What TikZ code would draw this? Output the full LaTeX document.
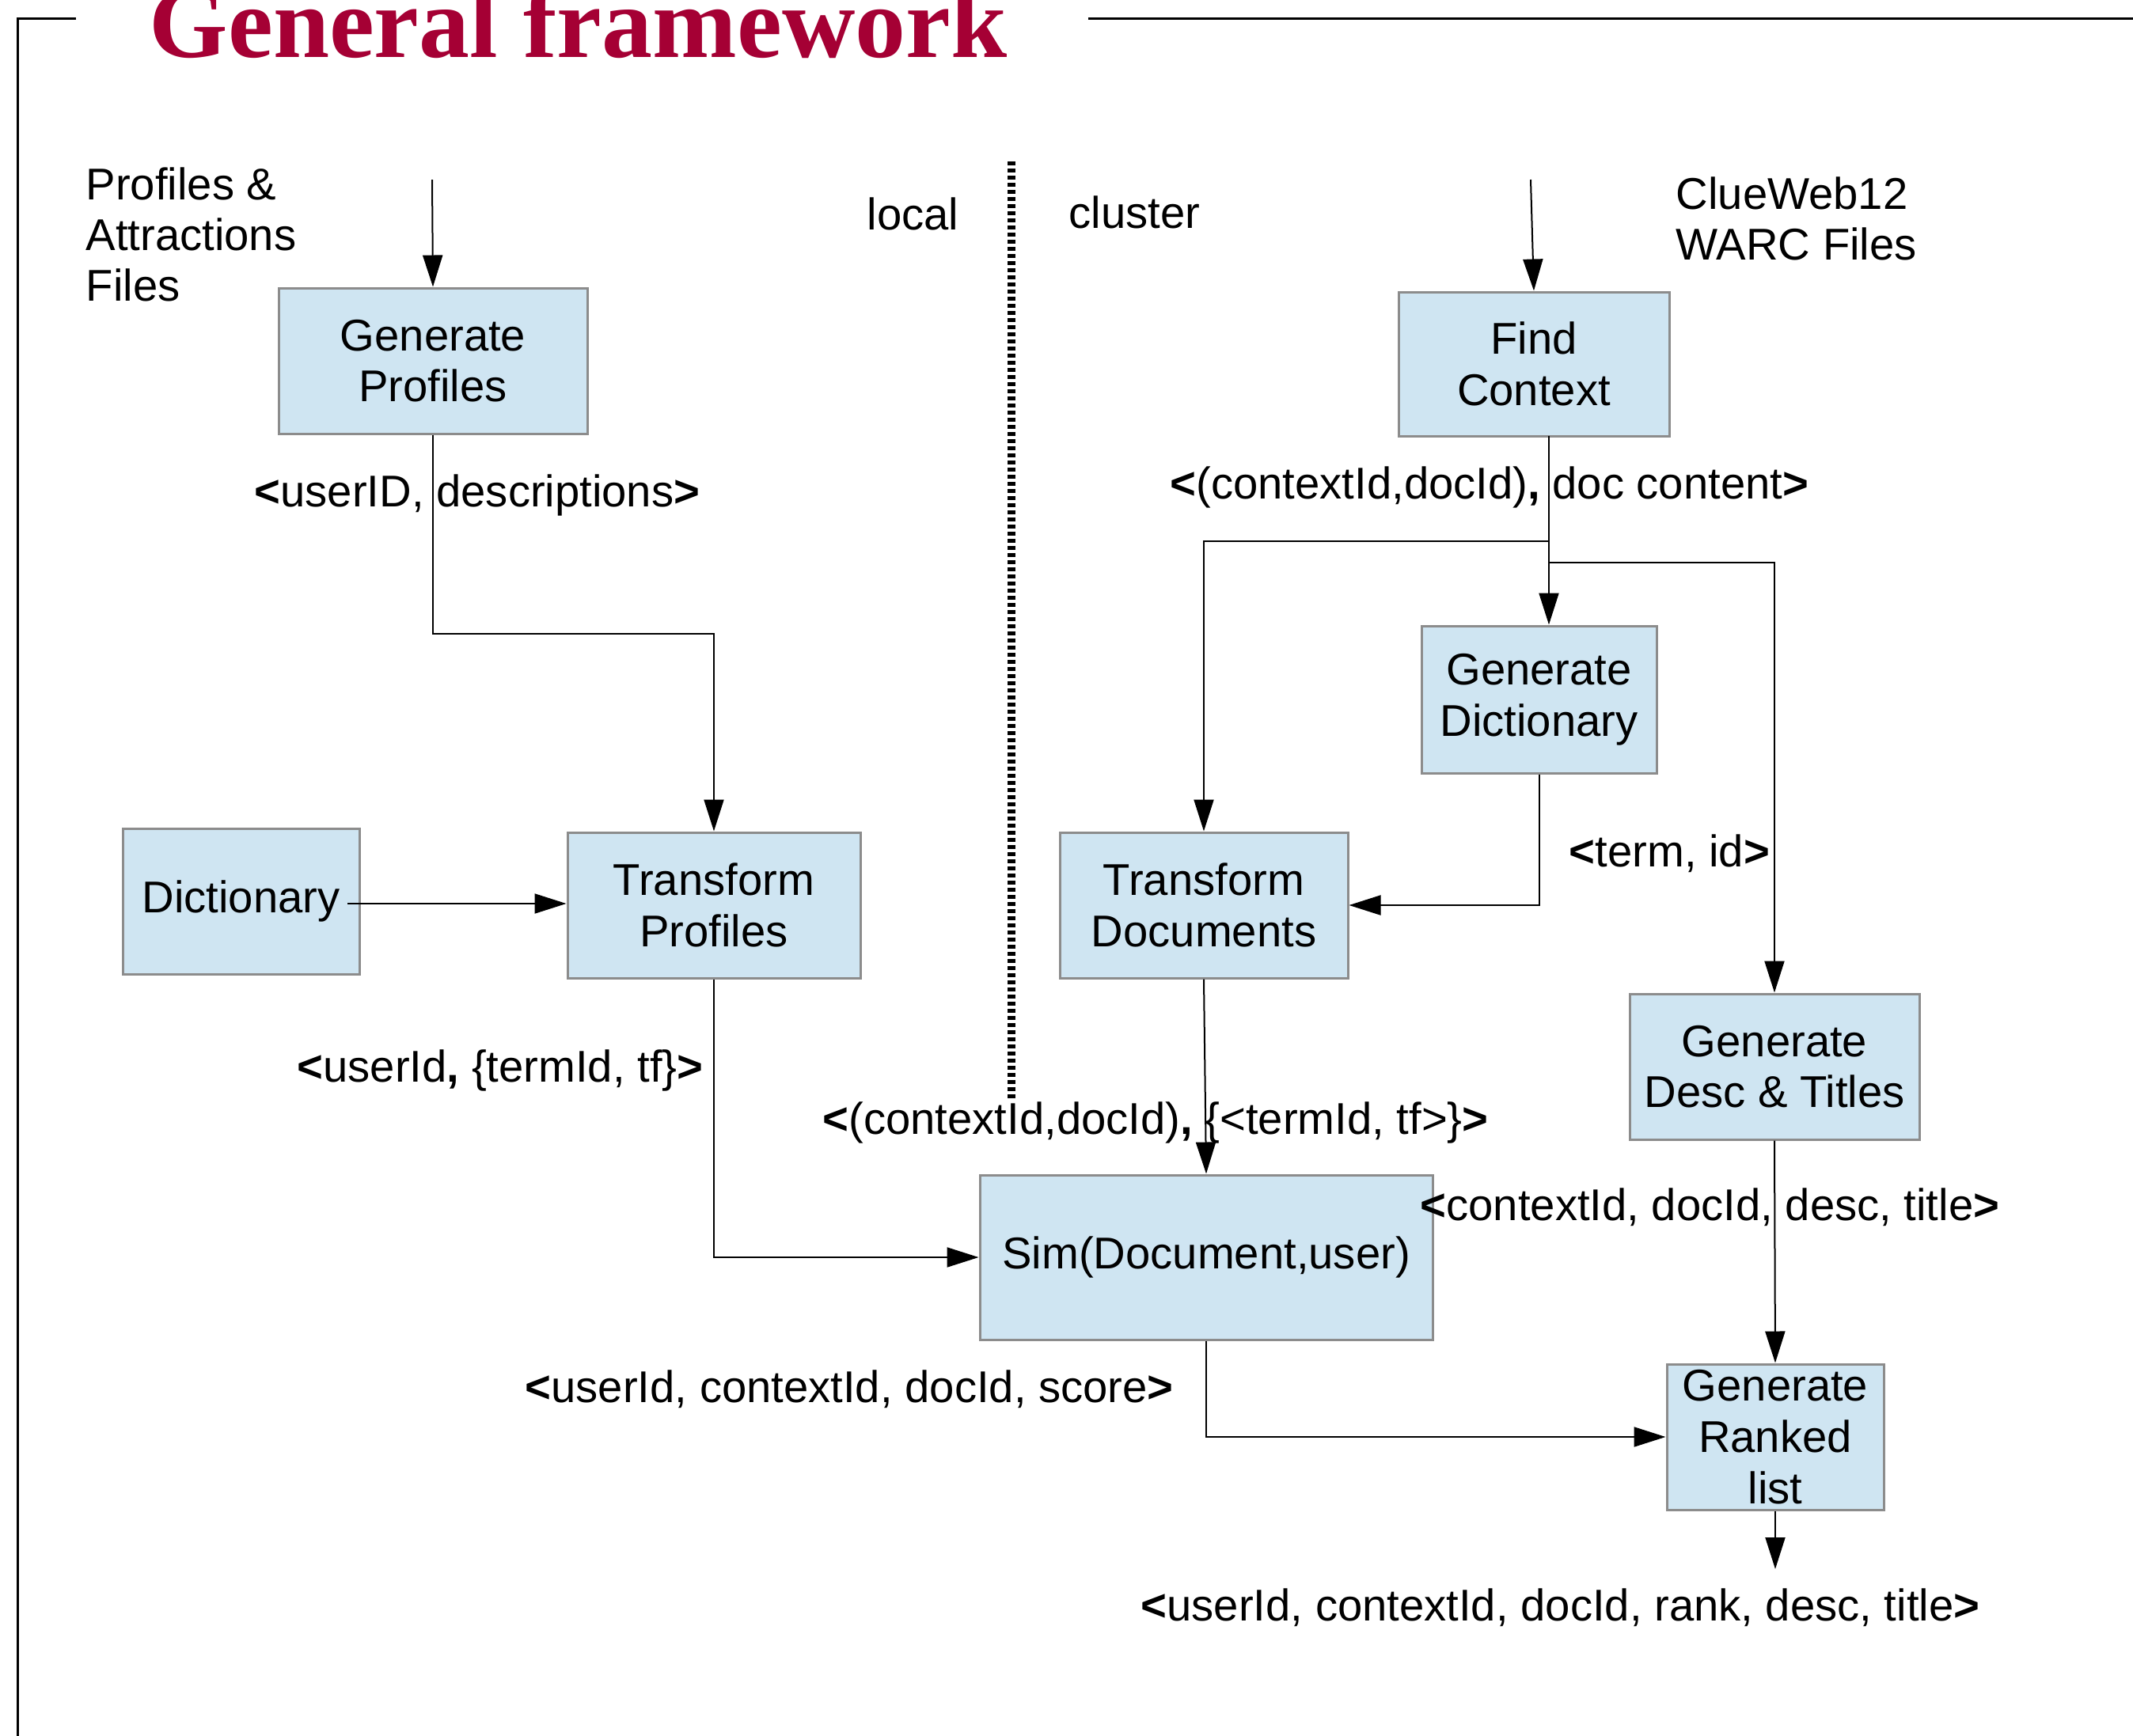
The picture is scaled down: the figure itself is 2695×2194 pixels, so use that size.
\documentclass[tikz,border=0pt]{standalone}
\usepackage{fontspec}
\setmainfont{Liberation Sans}
\newfontfamily\titlefont{Liberation Serif}
\usetikzlibrary{arrows.meta,calc}
\definecolor{boxfill}{HTML}{CFE5F2}
\definecolor{boxline}{HTML}{8C8C8C}
\definecolor{titlered}{HTML}{A50034}
\newcommand{\ltb}{\textbf{<}}
\newcommand{\gtb}{\textbf{>}}
\newcommand{\cmb}{\textbf{,}}
\begin{document}
\begin{tikzpicture}[x=0.1mm,y=-0.1mm,
  proc/.style={draw=boxline, line width=0.3mm, fill=boxfill, inner sep=0pt, align=center, font=\fontsize{16}{18.4}\selectfont},
  lbl/.style={inner sep=0pt, anchor=base west, align=left, font=\fontsize{16}{18.2}\selectfont},
  arr/.style={line width=0.2mm, -{Triangle[length=4mm,width=2.5mm]}},
  conn/.style={line width=0.2mm},
  frame/.style={line width=0.3mm},
  sep/.style={line width=1mm, dash pattern=on 0.5mm off 0.4mm}]
\useasboundingbox (0,0) rectangle (2695,2194);
% frame
\coordinate (f1) at (96,23);
\coordinate (f2) at (22,23);
\coordinate (f3) at (22,2200);
\coordinate (f4) at (1375,23);
\coordinate (f5) at (2700,23);
\draw[frame] (f1) -- (f2) -- (f3);
\draw[frame] (f4) -- (f5);
% title
\node[inner sep=0pt, anchor=base west, text=titlered, font=\titlefont\bfseries\fontsize{36.4}{40}\selectfont] (title) at (188,72) {General framework};
% separator
\coordinate (sepT) at (1278,204);
\coordinate (sepB) at (1278,1388);
\draw[sep] (sepT) -- (sepB);
% boxes
\node[proc, minimum width=39mm, minimum height=18.4mm] (gp) at (547,456) {Generate\\Profiles};
\node[proc, minimum width=34.2mm, minimum height=18.2mm] (fc) at (1938,460) {Find\\Context};
\node[proc, minimum width=29.9mm, minimum height=18.4mm] (dict) at (304.5,1139) {Dictionary};
\node[proc, minimum width=37mm, minimum height=18.4mm] (tp) at (902,1144) {Transform\\Profiles};
\node[proc, minimum width=36.4mm, minimum height=18.4mm] (td) at (1521,1144) {Transform\\Documents};
\node[proc, minimum width=29.7mm, minimum height=18.6mm] (gd) at (1944.5,884) {Generate\\Dictionary};
\node[proc, minimum width=36.6mm, minimum height=18.4mm] (gdt) at (2242,1348) {Generate\\Desc \& Titles};
\node[proc, minimum width=57.2mm, minimum height=20.8mm] (sim) at (1524,1589) {Sim(Document,user)};
\node[proc, minimum width=27.4mm, minimum height=18.4mm] (grl) at (2243,1816) {Generate\\Ranked\\list};
% free labels (multi-line: anchored at the last line's baseline)
\node[lbl] (lpa) at (108,380) {Profiles \&\\Attractions\\Files};
\node[lbl] (llocal) at (1095,290) {local};
\node[lbl] (lcluster) at (1350,288) {cluster};
\node[lbl] (lcw) at (2117,328) {ClueWeb12\\WARC Files};
\node[lbl] (l1) at (321,640) {\ltb userID, descriptions\gtb};
\node[lbl] (l2) at (1478,630) {\ltb(contextId,docId)\cmb{} doc content\gtb};
\node[lbl] (l3) at (1982,1095) {\ltb term, id\gtb};
\node[lbl] (l4) at (375,1367) {\ltb userId\cmb{} \{termId, tf\}\gtb};
\node[lbl] (l5) at (1039,1433) {\ltb(contextId,docId)\cmb{} \{<termId, tf>\}\gtb};
\node[lbl] (l6) at (1794,1542) {\ltb contextId, docId, desc, title\gtb};
\node[lbl] (l7) at (663,1772) {\ltb userId, contextId, docId, score\gtb};
\node[lbl] (l8) at (1441,2048) {\ltb userId, contextId, docId, rank, desc, title\gtb};
% connector coordinates
\coordinate (in1) at (546,227);
\coordinate (in2) at (1934,227);
\coordinate (fcs) at (1957,551);
\coordinate (br1) at (1957,684);
\coordinate (br2) at (1957,711);
\coordinate (dstart) at (439,1142);
\coordinate (out) at (2243,1983);
% connectors
\draw[arr] (in1) -- (gp.north);
\draw[arr] (in2) -- (fc.north);
\draw[arr] (gp.south) -- ++(0,251) -| (tp.north);
\draw[arr] (dstart) -- (dstart -| tp.west);
\draw[arr] (tp.south) |- (sim.west);
\draw[arr] (fcs) -- (fcs |- gd.north);
\draw[arr] (br1) -| (td.north);
\draw[arr] (br2) -| (gdt.north);
\draw[arr] (gd.south) |- (td.east);
\draw[arr] (td.south) -- (sim.north);
\draw[arr] (gdt.south) -- (grl.north);
\draw[arr] (sim.south) |- (grl.west);
\draw[arr] (grl.south) -- (out);
\end{tikzpicture}
\end{document}
